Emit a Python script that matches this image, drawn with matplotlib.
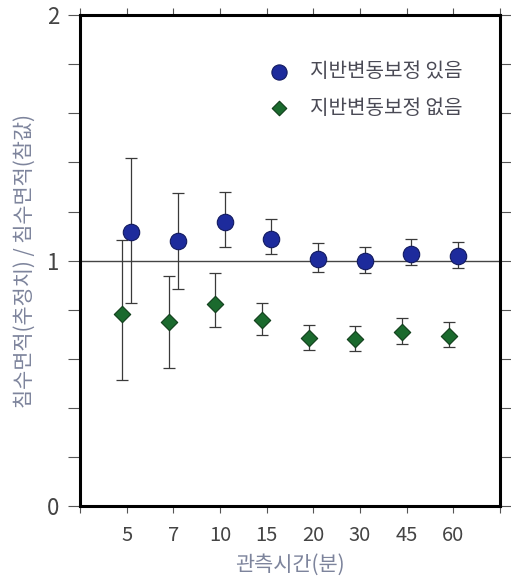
import numpy as np
import matplotlib
matplotlib.use("Agg")
import matplotlib.pyplot as plt

plt.rcParams['font.family'] = ['Noto Sans CJK KR', 'DejaVu Sans']

# observation time categories (minutes)
times = ["5", "7", "10", "15", "20", "30", "45", "60"]

# ratio with ground-deformation correction
corr_mean = [1.117, 1.081, 1.156, 1.088, 1.006, 0.998, 1.029, 1.018]
corr_low = [0.826, 0.884, 1.057, 1.025, 0.953, 0.949, 0.982, 0.969]
corr_high = [1.42, 1.275, 1.28, 1.168, 1.07, 1.054, 1.09, 1.075]

# ratio without correction
raw_mean = [0.782, 0.749, 0.824, 0.758, 0.684, 0.679, 0.709, 0.694]
raw_low = [0.513, 0.561, 0.729, 0.698, 0.634, 0.631, 0.661, 0.648]
raw_high = [1.086, 0.937, 0.948, 0.828, 0.739, 0.732, 0.766, 0.749]

legend_labels = ["지반변동보정 있음", "지반변동보정 없음"]

label_color = "#7d849c"
tick_color = "#444444"
blue, blue_edge = "#1d2b9c", "#121a60"
green, green_edge = "#1b6a2e", "#0f3d1a"

fig = plt.figure(figsize=(5.11, 5.85), dpi=100)
ax = fig.add_axes([0.1566, 0.135, 0.822, 0.839])

x = np.arange(1, len(times) + 1)

def yerr(mean, low, high):
    mean = np.array(mean)
    return [mean - np.array(low), np.array(high) - mean]

ax.axhline(1.0, color="#444444", lw=1.0, zorder=1)

ax.errorbar(x + 0.1, corr_mean, yerr=yerr(corr_mean, corr_low, corr_high),
            fmt="none", ecolor="#3a3a3a", elinewidth=0.9, capsize=4.5,
            capthick=0.9, zorder=2)
ax.errorbar(x - 0.1, raw_mean, yerr=yerr(raw_mean, raw_low, raw_high),
            fmt="none", ecolor="#3a3a3a", elinewidth=0.9, capsize=4.5,
            capthick=0.9, zorder=2)

ax.scatter(x + 0.1, corr_mean, s=140, marker="o", color=blue,
           edgecolors=blue_edge, linewidths=0.8, zorder=3)
ax.scatter(x - 0.1, raw_mean, s=70, marker="D", color=green,
           edgecolors=green_edge, linewidths=0.8, zorder=3)

# legend drawn as markers + text in the upper right
ax.scatter([4.26], [1.77], s=120, marker="o", color=blue,
           edgecolors=blue_edge, linewidths=0.8, zorder=3)
ax.scatter([4.26], [1.62], s=55, marker="D", color=green,
           edgecolors=green_edge, linewidths=0.8, zorder=3)
ax.text(4.93, 1.77, legend_labels[0], fontsize=14.5, color="#4a4a55",
        va="center", ha="left")
ax.text(4.93, 1.62, legend_labels[1], fontsize=14.5, color="#4a4a55",
        va="center", ha="left")

ax.set_xlim(0, 9)
ax.set_ylim(0, 2)

ax.set_xticks(np.arange(0, 10))
ax.set_xticklabels([""] + times + [""])
ax.set_yticks(np.arange(0, 2.01, 0.2))
ax.set_yticklabels(["0", "", "", "", "", "1", "", "", "", "", "2"])

ax.tick_params(axis="both", direction="out", color="#555555", width=0.8,
               labelcolor=tick_color)
ax.tick_params(axis="y", length=9, pad=6, labelsize=16)
ax.tick_params(axis="x", length=5, pad=9, labelsize=14.5)
ax.tick_params(top=True, right=True, labeltop=False, labelright=False)

for s in ax.spines.values():
    s.set_linewidth(2.2)

ax.set_xlabel("관측시간(분)", fontsize=15, color=label_color, labelpad=5)
ax.set_ylabel("침수면적(추정치) / 침수면적(참값)", fontsize=15,
              color=label_color, labelpad=8)

fig.savefig("out.png", dpi=100)
